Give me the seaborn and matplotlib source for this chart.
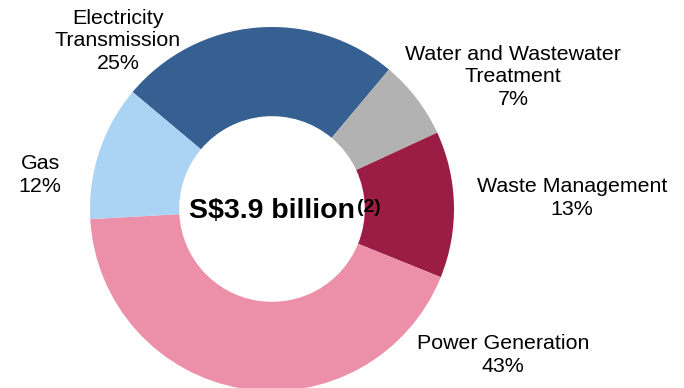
import matplotlib
matplotlib.use("Agg")
import matplotlib.pyplot as plt
import seaborn as sns

# Revenue mix by segment (percent), listed clockwise from the top-left slice
segments = ["Electricity\nTransmission", "Water and Wastewater\nTreatment",
            "Waste Management", "Power Generation", "Gas"]
shares = [25, 7, 13, 43, 12]
colors = ["#376092", "#B2B2B2", "#9B1C45", "#EC8FA8", "#ABD3F3"]
total_label = "S$3.9 billion"
total_note = "(2)"

sns.set_theme(style="white")
plt.rcParams["font.family"] = ["Liberation Sans", "DejaVu Sans"]

W, H = 684, 388
fig = plt.figure(figsize=(W / 100, H / 100), dpi=100)
ax = fig.add_axes([0, 0, 1, 1])
ax.set_xlim(0, W)
ax.set_ylim(0, H)
ax.set_aspect("equal")
ax.axis("off")

cx, cy = 272, H - 209
radius = 182
palette = sns.color_palette(colors)
ax.pie(shares, colors=palette, startangle=140, counterclock=False,
       center=(cx, cy), radius=radius,
       wedgeprops=dict(width=radius * 0.49, linewidth=0))
ax.set_xlim(0, W)
ax.set_ylim(0, H)

# Segment labels with their share
label_pos = [(118, 41), (513, 77), (572, 198), (503, 355), (40, 175)]
for name, share, (x, y) in zip(segments, shares, label_pos):
    ax.text(x, H - y, f"{name}\n{share}%", ha="center", va="center",
            fontsize=15.4, color="#000000", linespacing=1.22)

# Total in the hole
ax.text(189, H - 218, total_label, ha="left", va="baseline",
        fontsize=20.5, fontweight="bold", color="#000000")
ax.text(357, H - 212, total_note, ha="left", va="baseline",
        fontsize=14, fontweight="bold", color="#000000")

fig.savefig("out.png", dpi=100)
